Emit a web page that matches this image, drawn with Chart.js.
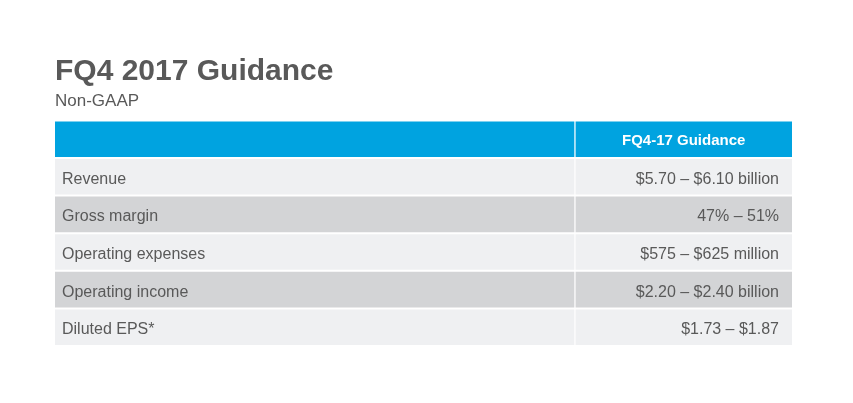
<!DOCTYPE html>
<html lang="en">
<head>
  <meta charset="UTF-8">
  <title>FQ4 2017 Guidance</title>
  <script src="https://cdn.jsdelivr.net/npm/chart.js"></script>
  <style>
    html, body { margin: 0; padding: 0; background: #ffffff; }
    #wrap { width: 853px; height: 403px; position: relative; }
  </style>
</head>
<body>
  <div id="wrap"><canvas id="guidanceTable"></canvas></div>

<script>
  // table content
  const columnHeaders = ['', 'FQ4-17 Guidance'];
  const rowLabels = ['Revenue', 'Gross margin', 'Operating expenses', 'Operating income', 'Diluted EPS*'];
  const guidance = ['$5.70 – $6.10 billion', '47% – 51%', '$575 – $625 million', '$2.20 – $2.40 billion', '$1.73 – $1.87'];

  const FONT = "'Liberation Sans', Arial, sans-serif";
  const TEXT_GREY = '#595959';
  const HEADER_BLUE = '#00a3e0';
  const ROW_LIGHT = '#eff0f2';
  const ROW_DARK = '#d3d4d6';
  const SPLIT = 0.706;   // where the first column ends

  const categories = ['header'].concat(rowLabels);
  const rowColors = categories.map((c, i) => i === 0 ? HEADER_BLUE : (i % 2 === 1 ? ROW_LIGHT : ROW_DARK));

  // draws the text of every cell on top of its bar
  const cellText = {
    id: 'cellText',
    afterDatasetsDraw(chart) {
      const ctx = chart.ctx;
      const left = chart.getDatasetMeta(0).data;
      const right = chart.getDatasetMeta(1).data;
      ctx.save();
      ctx.textBaseline = 'middle';
      categories.forEach((c, i) => {
        const a = left[i], b = right[i];
        if (i === 0) {
          ctx.fillStyle = '#ffffff';
          ctx.font = 'bold 15px ' + FONT;
          ctx.textAlign = 'center';
          ctx.fillText(columnHeaders[0], (a.base + a.x) / 2, a.y + 2);
          ctx.fillText(columnHeaders[1], (b.base + b.x) / 2, b.y + 2);
        } else {
          ctx.fillStyle = TEXT_GREY;
          ctx.font = '16px ' + FONT;
          ctx.textAlign = 'left';
          ctx.fillText(rowLabels[i - 1], a.base + 7, a.y + 2.5);
          ctx.textAlign = 'right';
          ctx.fillText(guidance[i - 1], b.x - 13, b.y + 2.5);
        }
      });
      ctx.restore();
    }
  };

  new Chart(document.getElementById('guidanceTable'), {
    type: 'bar',
    data: {
      labels: categories,
      datasets: [
        {
          data: categories.map(() => [0, SPLIT]),
          backgroundColor: rowColors,
          borderColor: '#ffffff',
          borderWidth: { top: 1, bottom: 1, left: 0, right: 1 },
          borderSkipped: false
        },
        {
          data: categories.map(() => [SPLIT, 1]),
          backgroundColor: rowColors,
          borderColor: '#ffffff',
          borderWidth: { top: 1, bottom: 1, left: 0, right: 0 },
          borderSkipped: false
        }
      ]
    },
    options: {
      indexAxis: 'y',
      responsive: true,
      maintainAspectRatio: false,
      animation: false,
      inflateAmount: 0,
      layout: { padding: { left: 55, right: 61, top: 0, bottom: 57 } },
      datasets: { bar: { barPercentage: 1, categoryPercentage: 1, grouped: false, inflateAmount: 0 } },
      scales: {
        x: { display: false, min: 0, max: 1 },
        y: { display: false }
      },
      plugins: {
        legend: { display: false },
        tooltip: { enabled: false },
        title: {
          display: true,
          text: 'FQ4 2017 Guidance',
          align: 'start',
          color: TEXT_GREY,
          font: { family: FONT, size: 30, weight: 'bold', lineHeight: 1.2 },
          padding: { top: 54, bottom: 0 }
        },
        subtitle: {
          display: true,
          text: 'Non-GAAP',
          align: 'start',
          color: TEXT_GREY,
          font: { family: FONT, size: 17, lineHeight: 1.2 },
          padding: { top: 1, bottom: 9 }
        }
      }
    },
    plugins: [cellText]
  });
</script>
</body>
</html>
